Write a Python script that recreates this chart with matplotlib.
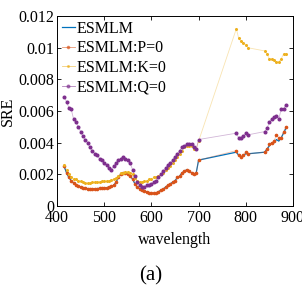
import numpy as np
import matplotlib
matplotlib.use("Agg")
import matplotlib.pyplot as plt

plt.rcParams['font.family'] = ['Liberation Serif', 'DejaVu Serif']

# wavelength sampling (three segments, water bands removed)
wl = [415, 420, 425, 430, 435, 440, 445, 450, 455, 460, 465, 470, 475, 480, 485,
      490, 495, 500, 505, 510, 515, 520, 525, 530, 535, 540, 545, 550, 555, 560,
      565, 570, 575, 580, 585, 590, 595, 600, 605, 610, 615, 620, 625, 630, 635,
      640, 645, 650, 655, 660, 665, 670, 675, 680, 685, 690, 695, 700,
      780, 785, 790, 795, 800, 805,
      840, 845, 850, 855, 860, 865, 870, 875, 880, 885]

sre_p0 = [0.0025, 0.0021, 0.0018, 0.0016, 0.00145, 0.00135, 0.00125, 0.0012, 0.00115, 0.00112,
          0.0011, 0.00106, 0.00107, 0.00108, 0.0011, 0.00112, 0.00113, 0.00114, 0.00115, 0.0012,
          0.00125, 0.0013, 0.0015, 0.0018, 0.0020, 0.0021, 0.0021, 0.0020, 0.0019, 0.0017,
          0.0014, 0.0012, 0.0011, 0.0010, 0.00095, 0.0009, 0.00085, 0.0008, 0.0008, 0.0008,
          0.0009, 0.0010, 0.00105, 0.0012, 0.0013, 0.0014, 0.0015, 0.0016, 0.0018, 0.0019,
          0.0021, 0.0022, 0.0023, 0.0022, 0.0021, 0.0020, 0.0021, 0.0029,
          0.0035, 0.0032, 0.0031, 0.0032, 0.0034, 0.0033,
          0.0034, 0.0036, 0.0039, 0.0040, 0.0041, 0.0045, 0.0043, 0.0043, 0.0047, 0.0050]

sre_esmlm = [0.0025, 0.0021, 0.0018, 0.0016, 0.00145, 0.00135, 0.00125, 0.0012, 0.00115, 0.00112,
             0.0011, 0.00106, 0.00107, 0.00108, 0.0011, 0.00112, 0.00113, 0.00114, 0.00115, 0.0012,
             0.00125, 0.0013, 0.0015, 0.0018, 0.0020, 0.0021, 0.0021, 0.0020, 0.0019, 0.0017,
             0.0014, 0.0012, 0.0011, 0.0010, 0.00095, 0.0009, 0.00085, 0.0008, 0.0008, 0.0008,
             0.0009, 0.0010, 0.00105, 0.0012, 0.0013, 0.0014, 0.0015, 0.0016, 0.0018, 0.0019,
             0.0021, 0.0022, 0.0023, 0.0022, 0.0021, 0.0020, 0.0021, 0.0029,
             0.0034, 0.0032, 0.0031, 0.0032, 0.0033, 0.0033,
             0.0034, 0.0036, 0.0038, 0.0040, 0.0040, 0.0042, 0.0041, 0.0043, 0.0046, 0.0049]

sre_k0 = [0.0026, 0.0023, 0.0020, 0.00185, 0.0017, 0.0017, 0.0016, 0.00155, 0.0015, 0.00145,
          0.00143, 0.00145, 0.0015, 0.0015, 0.00152, 0.00154, 0.00155, 0.00157, 0.00158, 0.0016,
          0.00165, 0.0017, 0.00175, 0.0019, 0.0021, 0.0021, 0.00215, 0.00217, 0.0021, 0.0020,
          0.00175, 0.0016, 0.00154, 0.00154, 0.00155, 0.0016, 0.00168, 0.0017, 0.0018, 0.00185,
          0.0019, 0.0020, 0.0021, 0.0023, 0.0024, 0.0025, 0.0027, 0.0029, 0.0031, 0.0033,
          0.0035, 0.0037, 0.0038, 0.0038, 0.0038, 0.0036, 0.0036, 0.0041,
          0.0112, 0.0106, 0.0104, 0.0103, 0.0102, 0.0100,
          0.0098, 0.0096, 0.0093, 0.0093, 0.0092, 0.0091, 0.0091, 0.0093, 0.0096, 0.0096]

sre_q0 = [0.0069, 0.0066, 0.0062, 0.0061, 0.0055, 0.0053, 0.0050, 0.0047, 0.0044, 0.0042,
          0.0040, 0.0037, 0.0035, 0.0033, 0.0032, 0.0030, 0.0029, 0.0027, 0.0026, 0.0024,
          0.0023, 0.0025, 0.0027, 0.0029, 0.0030, 0.0031, 0.0030, 0.0029, 0.0027, 0.0023,
          0.0019, 0.0015, 0.0013, 0.0012, 0.0012, 0.0013, 0.0013, 0.0014, 0.0015, 0.0016,
          0.0018, 0.0020, 0.0022, 0.0024, 0.0026, 0.0027, 0.0029, 0.0031, 0.0033, 0.0035,
          0.0037, 0.0038, 0.0039, 0.0039, 0.0039, 0.0037, 0.0036, 0.0042,
          0.0046, 0.0043, 0.0043, 0.0044, 0.0046, 0.0045,
          0.0047, 0.0049, 0.0053, 0.0055, 0.0056, 0.0057, 0.0055, 0.0061, 0.0061, 0.0064]

c_blue = '#0072BD'
c_orange = '#D95319'
c_yellow = '#EDB120'
c_purple = '#7E2F8E'

fig = plt.figure(figsize=(3.02, 2.93), dpi=100)
ax = fig.add_axes([0.189, 0.297, 0.781, 0.648])

ax.plot(wl, sre_esmlm, color=c_blue, lw=0.9, label='ESMLM')
ax.plot(wl, sre_p0, color=c_orange, lw=0.6, alpha=0.35, zorder=2)
ax.plot(wl, sre_p0, ls='none', marker='.', ms=3.2, color=c_orange, zorder=3)
ax.plot(wl, sre_k0, color=c_yellow, lw=0.6, alpha=0.35, zorder=2)
ax.plot(wl, sre_k0, ls='none', marker='.', ms=2.4, color=c_yellow, zorder=3)
ax.plot(wl, sre_q0, color=c_purple, lw=0.6, alpha=0.35, zorder=2)
ax.plot(wl, sre_q0, ls='none', marker='.', ms=3.8, color=c_purple, zorder=4)

# legend proxies: faint line + marker
h_b, = ax.plot([], [], color=c_blue, lw=0.9)
h_p, = ax.plot([], [], color=c_orange, marker='.', ms=3.2, lw=0.6, alpha=0.6)
h_k, = ax.plot([], [], color=c_yellow, marker='.', ms=2.4, lw=0.6, alpha=0.6)
h_q, = ax.plot([], [], color=c_purple, marker='.', ms=3.8, lw=0.6, alpha=0.6)
ax.legend([h_b, h_p, h_k, h_q], ['ESMLM', 'ESMLM:P=0', 'ESMLM:K=0', 'ESMLM:Q=0'],
          loc='upper left', frameon=False, fontsize=11.5, handlelength=0.8,
          handletextpad=0.1, labelspacing=0.22, borderaxespad=0.0, borderpad=0.3,
          bbox_to_anchor=(0.0, 1.0))

ax.set_xlim(400, 900)
ax.set_ylim(0, 0.012)
ax.set_xticks([400, 500, 600, 700, 800, 900])
ax.set_yticks([0, 0.002, 0.004, 0.006, 0.008, 0.01, 0.012])
ax.set_yticklabels(['0', '0.002', '0.004', '0.006', '0.008', '0.01', '0.012'])
ax.tick_params(direction='in', top=True, right=True, length=3, width=0.6,
               labelsize=11.5, pad=2)
ax.tick_params(axis='x', pad=3)
for s in ax.spines.values():
    s.set_linewidth(0.7)
ax.set_xlabel('wavelength', fontsize=11.5, labelpad=4)
ax.set_ylabel('SRE', fontsize=11.5, labelpad=2)

fig.text(0.5, 0.058, '(a)', ha='center', va='center', fontsize=15)

fig.savefig('out.png', dpi=100)
